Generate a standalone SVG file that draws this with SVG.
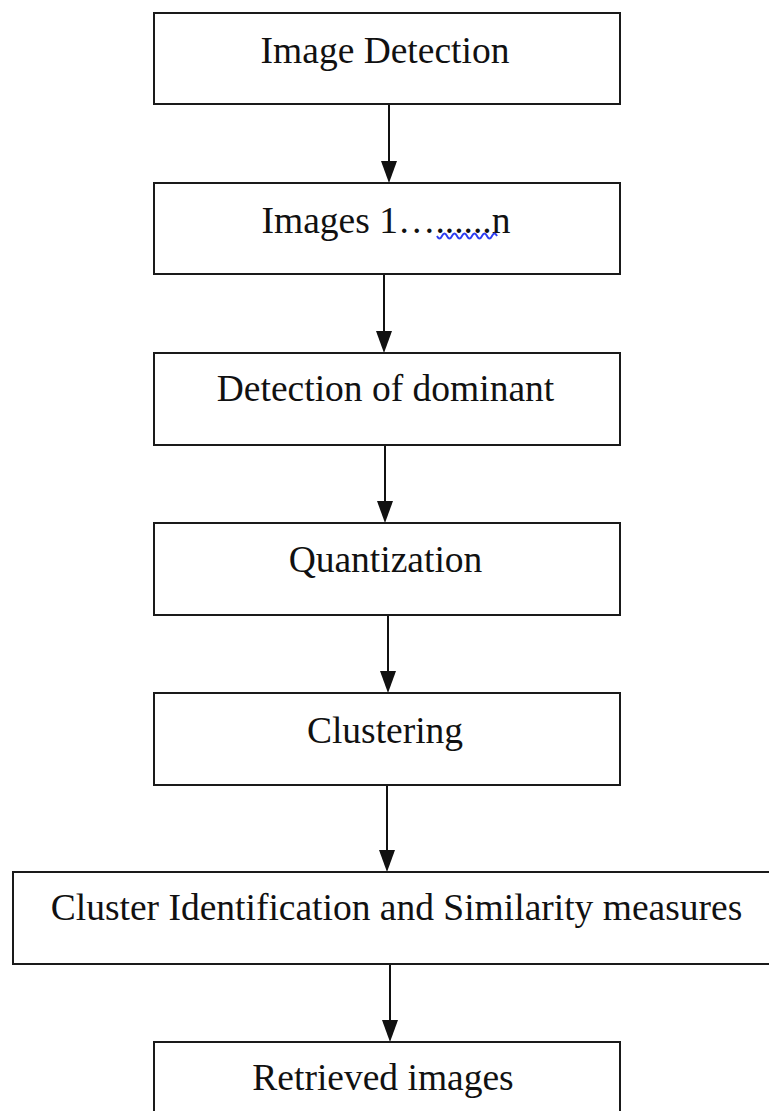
<svg xmlns="http://www.w3.org/2000/svg" width="769" height="1111" viewBox="0 0 769 1111">
  <style>
    .box { fill: #ffffff; stroke: #1a1a1a; stroke-width: 2; }
    .lbl { font-family: "Liberation Serif", "Times New Roman", serif; font-size: 37.5px; fill: #111111; text-anchor: middle; }
    .edge { stroke: #111111; stroke-width: 2; fill: none; }
    .head { fill: #111111; }
  </style>
  <rect x="0" y="0" width="769" height="1111" fill="#ffffff"/>

  <g id="connectors">
    <line class="edge" x1="389" y1="104" x2="389" y2="165"/>
    <polygon class="head" points="381,161 397,161 389,183"/>
    <line class="edge" x1="384" y1="274" x2="384" y2="335"/>
    <polygon class="head" points="376,331 392,331 384,353"/>
    <line class="edge" x1="385" y1="445" x2="385" y2="505"/>
    <polygon class="head" points="377,501 393,501 385,523"/>
    <line class="edge" x1="388" y1="615" x2="388" y2="675"/>
    <polygon class="head" points="380,671 396,671 388,693"/>
    <line class="edge" x1="387" y1="785" x2="387" y2="854"/>
    <polygon class="head" points="379,850 395,850 387,872"/>
    <line class="edge" x1="390" y1="964" x2="390" y2="1024"/>
    <polygon class="head" points="382,1020 398,1020 390,1042"/>
  </g>

  <g id="image-detection">
    <rect class="box" x="154" y="13" width="466" height="91"/>
    <text class="lbl" x="385" y="63">Image Detection</text>
  </g>

  <g id="images-1-n">
    <rect class="box" x="154" y="183" width="466" height="91"/>
    <text class="lbl" x="386" y="233">Images 1…......n</text>
    <!-- spell-check squiggle under the dotted run -->
    <path d="M437,236 q2.5,5 5,0 t5,0 t5,0 t5,0 t5,0 t5,0 t5,0 t5,0 t5,0 t5,0 t5,0 t5,0" fill="none" stroke="#2f3ff0" stroke-width="2"/>
  </g>

  <g id="detection-of-dominant">
    <rect class="box" x="154" y="353" width="466" height="92"/>
    <text class="lbl" x="385.5" y="401">Detection of dominant</text>
  </g>

  <g id="quantization">
    <rect class="box" x="154" y="523" width="466" height="92"/>
    <text class="lbl" x="385.5" y="572">Quantization</text>
  </g>

  <g id="clustering">
    <rect class="box" x="154" y="693" width="466" height="92"/>
    <text class="lbl" x="385" y="743">Clustering</text>
  </g>

  <g id="cluster-identification">
    <rect class="box" x="13" y="872" width="780" height="92"/>
    <text class="lbl" x="396.5" y="920">Cluster Identification and Similarity measures</text>
  </g>

  <g id="retrieved-images">
    <rect class="box" x="154" y="1042" width="466" height="100"/>
    <text class="lbl" x="383" y="1090">Retrieved images</text>
  </g>
</svg>
